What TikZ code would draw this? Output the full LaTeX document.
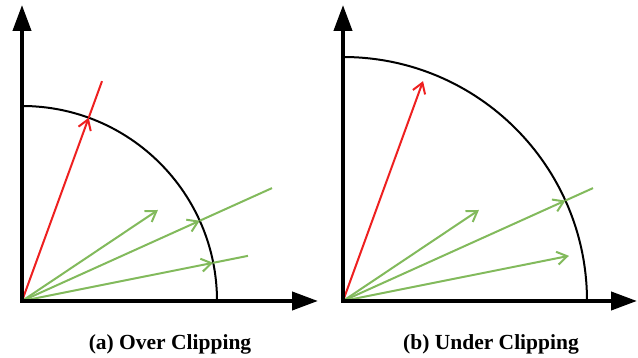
\documentclass[tikz,border=0pt]{standalone}
\usepackage{fontspec}
\setmainfont{Liberation Serif}
\usetikzlibrary{arrows.meta,calc}
\definecolor{vred}{RGB}{238,32,32}
\definecolor{vgreen}{RGB}{130,186,92}
\begin{document}
\begin{tikzpicture}[x=1pt,y=1pt,
  axes/.style={line width=4pt, line join=miter,
    {Triangle[length=26pt,width=18pt]}-{Triangle[length=26pt,width=18pt]}},
  quarter/.style={line width=2pt, black},
  vtip/.style={-{Straight Barb[length=10pt,width=13pt,line width=2pt]}},
  redvec/.style={line width=2pt, vred},
  greenvec/.style={line width=2pt, vgreen},
  caption/.style={font=\bfseries\fontsize{21.5}{24}\selectfont, inner sep=0pt, anchor=base}]
\useasboundingbox (0,0) rectangle (638,358);

% ---------- panel (a) ----------
\coordinate (oa) at (22,57);
\coordinate (ya) at (22,353);
\coordinate (xa) at (318,57);
\coordinate (ctopa) at ($(oa)+(0,195)$);
\coordinate (ra) at ($(oa)+(70:234)$);
\coordinate (rac) at ($(oa)+(70:195)$);
\coordinate (g1a) at ($(oa)+(33.8:163.6)$);
\coordinate (g2a) at ($(oa)+(24.3:274.3)$);
\coordinate (g2ac) at ($(oa)+(24.3:195)$);
\coordinate (g3a) at ($(oa)+(11.3:230.4)$);
\coordinate (g3ac) at ($(oa)+(11.3:195)$);

\draw[quarter] (ctopa) arc[start angle=90,end angle=0,radius=195];
\draw[greenvec,vtip] (oa) -- (g1a);
\draw[greenvec,vtip] (oa) -- (g2ac);
\draw[greenvec] (g2ac) -- (g2a);
\draw[greenvec,vtip] (oa) -- (g3ac);
\draw[greenvec] (g3ac) -- (g3a);
\draw[redvec,vtip] (oa) -- (rac);
\draw[redvec] (rac) -- (ra);
\draw[axes] (ya) -- (oa) -- (xa);
\node[caption] (capa) at (170,8.3) {(a) Over Clipping};

% ---------- panel (b) ----------
\coordinate (ob) at (343,57);
\coordinate (yb) at (343,353);
\coordinate (xb) at (637,57);
\coordinate (ctopb) at ($(ob)+(0,244)$);
\coordinate (rb) at ($(ob)+(70:234)$);
\coordinate (g1b) at ($(ob)+(33.8:163.6)$);
\coordinate (g2b) at ($(ob)+(24.3:274.3)$);
\coordinate (g2bc) at ($(ob)+(24.3:244)$);
\coordinate (g3b) at ($(ob)+(11.3:230.4)$);

\draw[quarter] (ctopb) arc[start angle=90,end angle=0,radius=244];
\draw[greenvec,vtip] (ob) -- (g1b);
\draw[greenvec,vtip] (ob) -- (g2bc);
\draw[greenvec] (g2bc) -- (g2b);
\draw[greenvec,vtip] (ob) -- (g3b);
\draw[redvec,vtip] (ob) -- (rb);
\draw[axes] (yb) -- (ob) -- (xb);
\node[caption] (capb) at (491,8.3) {(b) Under Clipping};
\end{tikzpicture}
\end{document}
